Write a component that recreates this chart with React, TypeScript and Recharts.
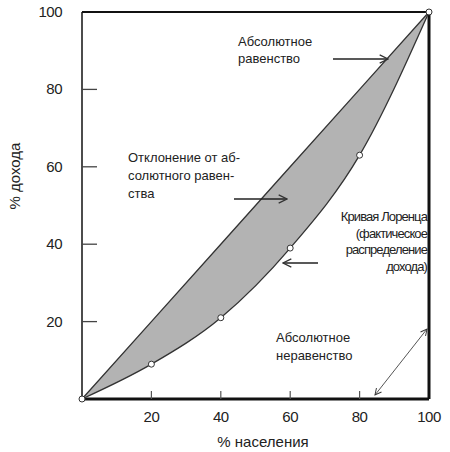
import { Area, ComposedChart, Line, ReferenceLine, XAxis, YAxis } from "recharts";

// % населения
const population = [0, 20, 40, 60, 80, 100];
// абсолютное равенство
const equality = [0, 20, 40, 60, 80, 100];
// кривая Лоренца
const lorenz = [0, 9, 21, 39, 63, 100];

const xTicks = [20, 40, 60, 80, 100];
const yTicks = [20, 40, 60, 80, 100];

const data = population.map((p, i) => ({
    p,
    equal: equality[i],
    lorenz: lorenz[i],
    band: [lorenz[i], equality[i]],
}));

const font = "'Liberation Sans', Arial, sans-serif";
const ink = "#222";

const YTick = (props: any) => {
    const { x, y, payload } = props;
    return (
        <g>
            {payload.value !== 100 && (
                <line x1={x + 20} y1={y} x2={x + 35} y2={y} stroke="#444" strokeWidth={1.3} />
            )}
            <text x={x} y={y} dy={5} textAnchor="end" fontSize={15} fill={ink} fontFamily={font} letterSpacing={-0.5}>
                {payload.value}
            </text>
        </g>
    );
};

const XTick = (props: any) => {
    const { x, y, payload } = props;
    return (
        <g>
            {payload.value !== 100 && (
                <line x1={x} y1={y - 8} x2={x} y2={y - 16} stroke="#555" strokeWidth={1.2} />
            )}
            <text x={x} y={y} dy={15} textAnchor="middle" fontSize={15} fill={ink} fontFamily={font} letterSpacing={-0.5}>
                {payload.value}
            </text>
        </g>
    );
};

const Notes = () => (
    <svg width={450} height={452} style={{ position: "absolute", left: 0, top: 0, pointerEvents: "none" }}>
        <defs>
            <marker id="open" viewBox="0 0 10 10" refX={9} refY={5} markerWidth={8} markerHeight={8} orient="auto-start-reverse">
                <path d="M1,1 L9,5 L1,9" fill="none" stroke="#333" strokeWidth={1.2} />
            </marker>
        </defs>
        <g fontFamily={font} fontSize={13} fill={ink}>
            <text x={238} y={46}>Абсолютное</text>
            <text x={238} y={63}>равенство</text>

            <text x={128} y={162}>Отклонение от аб-</text>
            <text x={128} y={180}>солютного равен-</text>
            <text x={128} y={198}>ства</text>

            <g textAnchor="end" letterSpacing={-0.9}>
                <text x={427} y={221}>Кривая Лоренца</text>
                <text x={427} y={238}>(фактическое</text>
                <text x={427} y={254}>распределение</text>
                <text x={427} y={271}>дохода)</text>
            </g>

            <text x={276} y={342}>Абсолютное</text>
            <text x={276} y={360}>неравенство</text>
        </g>
        <g stroke="#222" strokeWidth={1.3}>
            <line x1={333} y1={59} x2={388} y2={59} markerEnd="url(#open)" />
            <line x1={234} y1={199} x2={287} y2={199} markerEnd="url(#open)" />
            <line x1={318} y1={263} x2={283} y2={263} markerEnd="url(#open)" />
        </g>
        <line x1={375} y1={395} x2={427} y2={329} stroke="#555" strokeWidth={1} markerStart="url(#open)" markerEnd="url(#open)" />
        <text x={263} y={447} textAnchor="middle" fontSize={15} fill={ink} fontFamily={font}>% населения</text>
        <text x={15} y={176} transform="rotate(-90 15 176)" textAnchor="middle" dy={5} fontSize={15} fill={ink} fontFamily={font}>
            % дохода
        </text>
    </svg>
);

export default function App() {
    return (
        <div style={{ position: "absolute", left: 0, top: 0, width: 450, height: 452, background: "#fff" }}>
            <ComposedChart width={450} height={452} data={data} margin={{ top: 12, right: 21, bottom: 23, left: 0 }}>
                <XAxis
                    dataKey="p"
                    type="number"
                    domain={[0, 100]}
                    ticks={xTicks}
                    tick={<XTick />}
                    tickLine={false}
                    tickSize={0}
                    tickMargin={8}
                    height={30}
                    axisLine={false}
                />
                <YAxis
                    type="number"
                    domain={[0, 100]}
                    ticks={yTicks}
                    tick={<YTick />}
                    tickLine={false}
                    tickSize={0}
                    tickMargin={20}
                    width={82}
                    axisLine={false}
                />
                <Area
                    dataKey="band"
                    type="monotone"
                    fill="#b3b3b3"
                    fillOpacity={1}
                    stroke="none"
                    isAnimationActive={false}
                />
                <Line dataKey="equal" type="linear" stroke="#333" strokeWidth={1.3} dot={false} isAnimationActive={false} />
                <ReferenceLine y={100} stroke="#111" strokeWidth={2} />
                <ReferenceLine x={0} stroke="#111" strokeWidth={1.5} />
                <ReferenceLine x={100} stroke="#111" strokeWidth={3} />
                <ReferenceLine y={0} stroke="#111" strokeWidth={3} />
                <Line
                    dataKey="lorenz"
                    type="monotone"
                    stroke="#333"
                    strokeWidth={1.3}
                    dot={{ r: 3, fill: "#fff", stroke: "#333", strokeWidth: 1 }}
                    isAnimationActive={false}
                />
            </ComposedChart>
            <Notes />
        </div>
    );
}
